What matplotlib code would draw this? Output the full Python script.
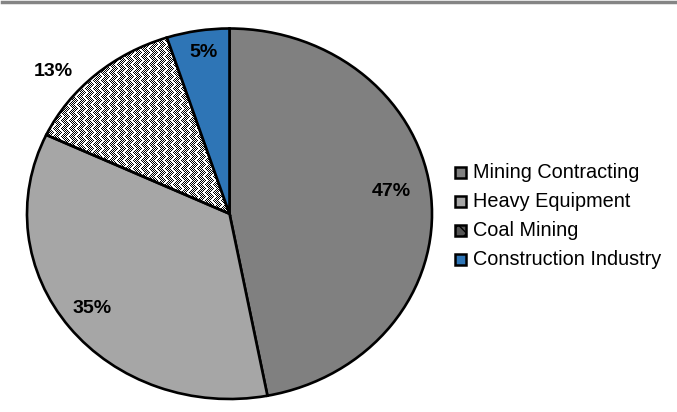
import numpy as np
import matplotlib
matplotlib.use("Agg")
import matplotlib.pyplot as plt
from matplotlib.patches import Rectangle
from matplotlib.lines import Line2D

plt.rcParams['font.family'] = ['Liberation Sans', 'DejaVu Sans']

categories = ["Mining Contracting", "Heavy Equipment", "Coal Mining", "Construction Industry"]
shares = [47, 35, 13, 5]
colors = ["#808080", "#A6A6A6", "none", "#2E75B6"]
hatched = [False, False, True, False]

# label anchor points (pie data units, radius = 1)
label_xy = [(0.80, 0.12), (-0.68, -0.51), (-0.87, 0.77), (-0.13, 0.87)]

W, H = 677, 412
fig = plt.figure(figsize=(W / 100, H / 100), dpi=100)

# pie occupies an ellipse of 405 x 370 px
px_l, px_r, px_t, px_b = 27, 432, 28.5, 399
ax = fig.add_axes([px_l / W, (H - px_b) / H, (px_r - px_l) / W, (px_b - px_t) / H])

wedges, _ = ax.pie(shares, colors=colors, startangle=90, counterclock=False,
                   wedgeprops=dict(edgecolor="black", linewidth=1.9, zorder=2))
ax.set_aspect("auto")
ax.set_xlim(-1, 1)
ax.set_ylim(-1, 1)
ax.axis("off")

# woven texture for the hatched slice
ph, pw = int(round(px_b - px_t)), int(round(px_r - px_l))
ii, jj = np.mgrid[0:ph, 0:pw]
checker = ((ii + jj) % 2 == 0)
zig = np.abs((ii % 8) - 4)
band = ((jj - zig) % 8) < 2
solid = ((jj - zig) % 8) == 4
tex = np.where((checker | solid) & ~band, 0.0, 1.0)
for w, h in zip(wedges, hatched):
    if h:
        im = ax.imshow(tex, cmap="gray", vmin=0, vmax=1, extent=(-1, 1, -1, 1),
                       interpolation="nearest", zorder=1, aspect="auto")
        im.set_clip_path(w)

for (x, y), v in zip(label_xy, shares):
    ax.text(x, y, f"{v}%", ha="center", va="center", fontsize=14,
            fontweight="bold", color="black", zorder=4)

# top rule
fig.add_artist(Line2D([2 / W, 675 / W], [1 - 2 / H, 1 - 2 / H], color="#858585",
                      linewidth=2.5, transform=fig.transFigure))

# legend
leg_x, leg_y0, leg_dy, sq = 455, 172, 29.3, 11
legend_faces = ["#808080", "#A6A6A6", "#555555", "#2E75B6"]
for k, (name, fc) in enumerate(zip(categories, legend_faces)):
    yc = leg_y0 + k * leg_dy
    fig.add_artist(Rectangle(((leg_x) / W, (H - yc - sq / 2) / H), sq / W, sq / H,
                             facecolor=fc, edgecolor="black", linewidth=1.8,
                             transform=fig.transFigure,
                             hatch="xx" if k == 2 else None))
    fig.text((leg_x + sq + 7) / W, (H - yc) / H, name, ha="left", va="center",
             fontsize=14.3, color="black")

fig.savefig("out.png", dpi=100)
